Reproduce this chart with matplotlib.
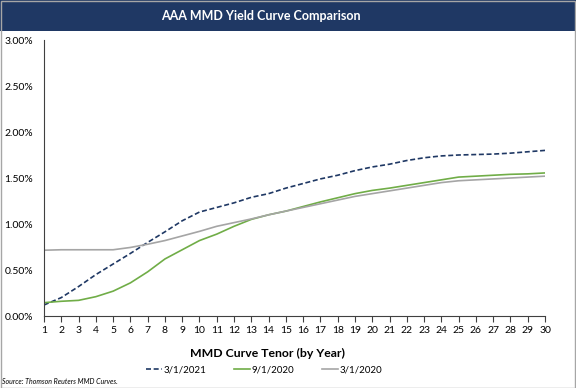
import matplotlib
matplotlib.use("Agg")
import matplotlib.pyplot as plt
from matplotlib.patches import Rectangle
from matplotlib.ticker import FuncFormatter, MultipleLocator

plt.rcParams['font.family'] = ['Lato', 'DejaVu Sans']

tenor = list(range(1, 31))
y2021 = [0.12, 0.20, 0.32, 0.45, 0.565, 0.68, 0.80, 0.915, 1.035, 1.13, 1.18, 1.23, 1.29, 1.33,
         1.39, 1.44, 1.49, 1.53, 1.58, 1.62, 1.65, 1.69, 1.72, 1.74, 1.75, 1.755, 1.76, 1.77, 1.785, 1.80]
y2020_sep = [0.145, 0.16, 0.17, 0.21, 0.27, 0.36, 0.48, 0.62, 0.72, 0.82, 0.89, 0.975, 1.05, 1.10,
             1.14, 1.19, 1.24, 1.285, 1.33, 1.365, 1.39, 1.42, 1.45, 1.48, 1.51, 1.52, 1.53, 1.54, 1.545, 1.555]
y2020_mar = [0.715, 0.72, 0.72, 0.72, 0.72, 0.745, 0.78, 0.82, 0.87, 0.92, 0.975, 1.015, 1.055, 1.10,
             1.14, 1.18, 1.22, 1.26, 1.30, 1.33, 1.36, 1.39, 1.42, 1.45, 1.47, 1.48, 1.49, 1.50, 1.51, 1.52]
labels = ['3/1/2021', '9/1/2020', '3/1/2020']

fig = plt.figure(figsize=(5.76, 3.88), dpi=100)
W, H = 576, 388

# title bar
fig.patches.append(Rectangle((0, 1 - 31 / H), 1, 31 / H, transform=fig.transFigure,
                             facecolor='#1F3864', edgecolor='none', zorder=0))
fig.text(261 / W, 1 - 16 / H, 'AAA MMD Yield Curve Comparison', color='white', fontsize=9,
         fontweight='bold', ha='center', va='center')
# border
fig.patches.append(Rectangle((0.001, 0.001), 0.998, 0.997, transform=fig.transFigure,
                             facecolor='none', edgecolor='#A6A6A6', linewidth=1, zorder=5))

ax = fig.add_axes([44 / W, (H - 316) / H, 501 / W, 276 / H])
ax.plot(tenor, y2021, color='#1F3864', lw=1.2, ls=(0, (3, 1.6)), label=labels[0])
ax.plot(tenor, y2020_sep, color='#70AD47', lw=1.2, label=labels[1])
ax.plot(tenor, y2020_mar, color='#A5A5A5', lw=1.2, label=labels[2])

ax.set_xlim(1, 30)
ax.set_ylim(0, 3.0)
ax.set_xticks(tenor)
ax.yaxis.set_major_locator(MultipleLocator(0.5))
ax.yaxis.set_major_formatter(FuncFormatter(lambda v, p: f'{v:.2f}%'))
for s in ['top', 'right']:
    ax.spines[s].set_visible(False)
ax.spines['left'].set_color('#404040')
ax.spines['bottom'].set_color('#404040')
ax.tick_params(axis='y', length=0, labelsize=7.5, pad=8, colors='#404040')
ax.tick_params(axis='x', direction='out', length=4, width=0.8, labelsize=7.5, pad=3,
               colors='#404040', labelcolor='black')
ax.tick_params(axis='y', labelcolor='black')

fig.text(267 / W, 1 - 353 / H, 'MMD Curve Tenor (by Year)', fontsize=8.8, fontweight='bold',
         ha='center', va='center')
fig.legend(loc='center', bbox_to_anchor=(264 / W, 1 - 370 / H), ncol=3, frameon=False,
           fontsize=7, handlelength=1.7, handletextpad=0.15, columnspacing=2.8)
fig.text(2 / W, 1 - 382 / H, 'Source: Thomson Reuters MMD Curves.', fontsize=5,
         style='italic', ha='left', va='center')

fig.savefig('out.png', dpi=100)
